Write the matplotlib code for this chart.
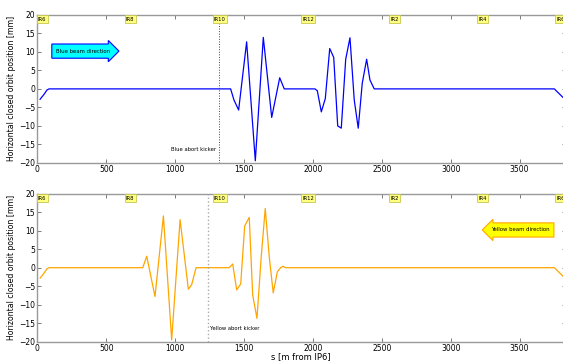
import numpy as np
import matplotlib.pyplot as plt

# ---- data ----
blue_s = [20, 50, 70, 85, 1403, 1427, 1461, 1519, 1582, 1640, 1701, 1759, 1792,
          2015, 2032, 2061, 2090, 2122, 2151, 2180, 2206, 2238, 2269, 2300, 2329,
          2358, 2390, 2414, 2445, 3752, 3834]
blue_x = [-2.8, -1.4, -0.3, 0.0, 0.0, -3.0, -5.7, 12.7, -19.4, 13.9, -7.7, 3.0, 0.0,
          0.0, -0.5, -6.2, -2.6, 10.9, 8.5, -10.0, -10.6, 8.0, 13.8, -3.0, -10.6,
          1.5, 8.0, 2.4, 0.0, 0.0, -3.0]

yellow_s = [20, 50, 70, 85, 765, 794, 854, 915, 975, 1036, 1096, 1120, 1152,
            1393, 1418, 1447, 1476, 1505, 1538, 1563, 1594, 1625, 1654, 1683, 1712,
            1742, 1766, 1782, 1800, 3752, 3834]
yellow_x = [-2.8, -1.4, -0.3, 0.0, 0.0, 3.1, -7.8, 14.0, -19.5, 13.0, -5.8, -4.6, 0.0,
            0.0, 1.0, -6.0, -4.4, 11.3, 13.6, -7.4, -13.7, 3.0, 16.0, 3.0, -6.8,
            -1.1, 0.0, 0.4, 0.0, 0.0, -3.0]

ir_names = ['IR6', 'IR8', 'IR10', 'IR12', 'IR2', 'IR4', 'IR6']
ir_s = [0, 639, 1278, 1917, 2556, 3195, 3834]

blue_kicker = 1320
yellow_kicker = 1236
circ = 3833.845

fig = plt.figure(figsize=(5.63, 3.61), dpi=100)
ax1 = fig.add_axes([0.0663, 0.5485, 0.9383, 0.4105])
ax2 = fig.add_axes([0.0663, 0.0535, 0.9383, 0.4099])

def style(ax):
    ax.set_xlim(0, circ)
    ax.set_ylim(-20, 20)
    ax.set_xticks(range(0, 4000, 500))
    ax.set_yticks(range(-20, 21, 5))
    ax.tick_params(direction='in', top=True, right=True, length=3,
                   width=0.6, color='#666666', labelsize=5.5, pad=1.5)
    for sp in ax.spines.values():
        sp.set_color('#999999')
        sp.set_linewidth(1.0)
    ax.set_ylabel('Horizontal closed orbit position [mm]', fontsize=5.6, labelpad=2)
    for i, (name, s) in enumerate(zip(ir_names, ir_s)):
        last = i == len(ir_s) - 1
        ax.text(s - 4 if last else s + 4, 18.8, name, fontsize=3.8,
                ha='right' if last else 'left', va='center',
                bbox=dict(boxstyle='square,pad=0.25', fc='#ffff80', ec='#c8c850', lw=0.6),
                clip_on=False)

ax1.plot(blue_s, blue_x, color='blue', lw=0.9)
ax1.axvline(blue_kicker, color='#444444', ls=':', lw=0.7)
ax1.text(blue_kicker - 25, -16.3, 'Blue abort kicker', fontsize=3.8,
         ha='right', va='center')
ax1.text(335, 10.2, 'Blue beam direction', fontsize=3.9, ha='center', va='center',
         bbox=dict(boxstyle='rarrow,pad=0.85', fc='cyan', ec='blue', lw=0.8))
style(ax1)

ax2.plot(yellow_s, yellow_x, color='orange', lw=0.9)
ax2.axvline(yellow_kicker, color='#aaaaaa', ls=':', lw=1.0)
ax2.text(yellow_kicker + 20, -16.5, 'Yellow abort kicker', fontsize=3.8,
         ha='left', va='center')
ax2.text(3503, 10.2, 'Yellow beam direction', fontsize=3.9, ha='center', va='center',
         bbox=dict(boxstyle='larrow,pad=0.85', fc='yellow', ec='orange', lw=0.8))
style(ax2)
fig.text(0.535, 0.0135, 's [m from IP6]', fontsize=6, ha='center', va='center')

fig.savefig('out.png', dpi=100)
